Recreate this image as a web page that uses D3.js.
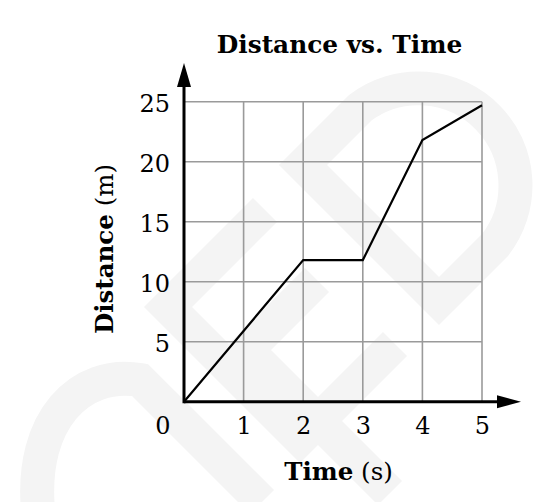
<!DOCTYPE html>
<html>
<head>
<meta charset="utf-8">
<script src="https://cdn.jsdelivr.net/npm/d3@7"></script>
<style>
  html, body { margin: 0; padding: 0; background: #ffffff; }
  svg { display: block; }
  text { font-family: "DejaVu Serif", "Liberation Serif", serif; fill: #000; }
</style>
</head>
<body>
<svg id="chart" width="556" height="502"></svg>
<script>
// ---- data ----
const times = [0, 2, 3, 4, 5];
const distances = [0, 11.8, 11.8, 21.8, 24.7];
const xTicks = [1, 2, 3, 4, 5];
const yTicks = [5, 10, 15, 20, 25];
const titleText = "Distance vs. Time";
const xLabelMain = "Time";
const xLabelUnit = " (s)";
const yLabelMain = "Distance";
const yLabelUnit = " (m)";

const svg = d3.select("#chart");
const W = 556, H = 502;
svg.append("rect").attr("width", W).attr("height", H).attr("fill", "#fff");

// ---- watermark (faint logo) ----
const wm = svg.append("g").attr("fill", "none").attr("stroke", "#f4f4f4")
  .attr("stroke-width", 34).attr("stroke-linejoin", "miter");
wm.append("path").attr("d", "M360,108 L303,165 L439,301 L495,245 A97,97 0 0 0 360,108 Z");
wm.append("path").attr("d", "M265,210 L168,307 L300,439 L395,344");
wm.append("path").attr("d", "M317,280 L247,350 L390,493");
wm.append("path").attr("stroke-linecap", "butt")
  .attr("d", "M38,510 C30,420 80,370 140,380 L262,502");

// ---- scales ----
const x = d3.scaleLinear().domain([0, 5]).range([184, 482]);
const y = d3.scaleLinear().domain([0, 25]).range([401.7, 101.7]);

// ---- grid ----
const grid = svg.append("g").attr("stroke", "#9a9a9a").attr("stroke-width", 1.6);
grid.selectAll("line.v").data(xTicks).join("line")
  .attr("x1", d => x(d)).attr("x2", d => x(d))
  .attr("y1", y(0)).attr("y2", y(25));
grid.selectAll("line.h").data(yTicks).join("line")
  .attr("x1", x(0)).attr("x2", x(5))
  .attr("y1", d => y(d)).attr("y2", d => y(d));

// ---- data line ----
const pts = times.map((t, i) => [t, distances[i]]);
svg.append("path").datum(pts)
  .attr("fill", "none").attr("stroke", "#000").attr("stroke-width", 2.2)
  .attr("stroke-linejoin", "miter")
  .attr("d", d3.line().x(d => x(d[0])).y(d => y(d[1])));

// ---- axes with arrows ----
const ax = svg.append("g");
ax.append("line").attr("x1", x(0)).attr("x2", 500).attr("y1", y(0)).attr("y2", y(0))
  .attr("stroke", "#000").attr("stroke-width", 3);
ax.append("line").attr("x1", x(0)).attr("x2", x(0)).attr("y1", y(0) + 1.5).attr("y2", 84)
  .attr("stroke", "#000").attr("stroke-width", 3);
ax.append("path").attr("fill", "#000")
  .attr("d", `M521,${y(0)} L497,${y(0) - 6.5} L497,${y(0) + 6.5} Z`);
ax.append("path").attr("fill", "#000")
  .attr("d", `M${x(0)},63 L${x(0) - 7},87 L${x(0) + 7},87 Z`);

// ---- tick labels via d3 axes ----
const xAxis = d3.axisBottom(x).tickValues(xTicks).tickSize(0).tickPadding(0).tickFormat(d3.format("d"));
const gx = svg.append("g").attr("transform", `translate(0,${y(0)})`).call(xAxis);
gx.select(".domain").remove();
gx.selectAll("text").attr("font-size", 24).attr("font-family", "DejaVu Serif")
  .attr("dy", null).attr("y", 32.5).attr("fill", "#000");

const yAxis = d3.axisLeft(y).tickValues(yTicks).tickSize(0).tickPadding(0).tickFormat(d3.format("d"));
const gy = svg.append("g").attr("transform", `translate(${x(0) - 14},0)`).call(yAxis);
gy.select(".domain").remove();
gy.selectAll("text").attr("font-size", 24).attr("font-family", "DejaVu Serif")
  .attr("dy", null).attr("y", 10).attr("x", 0).attr("fill", "#000");

// origin label
svg.append("text").attr("x", x(0) - 21).attr("y", y(0) + 32.5)
  .attr("text-anchor", "middle").attr("font-size", 24).text("0");

// ---- title ----
svg.append("text").attr("x", 339.5).attr("y", 53).attr("text-anchor", "middle")
  .attr("font-size", 24.8).attr("font-weight", "bold").text(titleText);

// ---- x label ----
const xl = svg.append("text").attr("x", 338.5).attr("y", 480).attr("text-anchor", "middle")
  .attr("font-size", 24.5);
xl.append("tspan").attr("font-weight", "bold").text(xLabelMain);
xl.append("tspan").attr("font-weight", "normal").text(xLabelUnit);

// ---- y label ----
const yl = svg.append("text").attr("transform", "translate(113,249) rotate(-90)")
  .attr("text-anchor", "middle").attr("font-size", 24.5);
yl.append("tspan").attr("font-weight", "bold").text(yLabelMain);
yl.append("tspan").attr("font-weight", "normal").text(yLabelUnit);
</script>
</body>
</html>
